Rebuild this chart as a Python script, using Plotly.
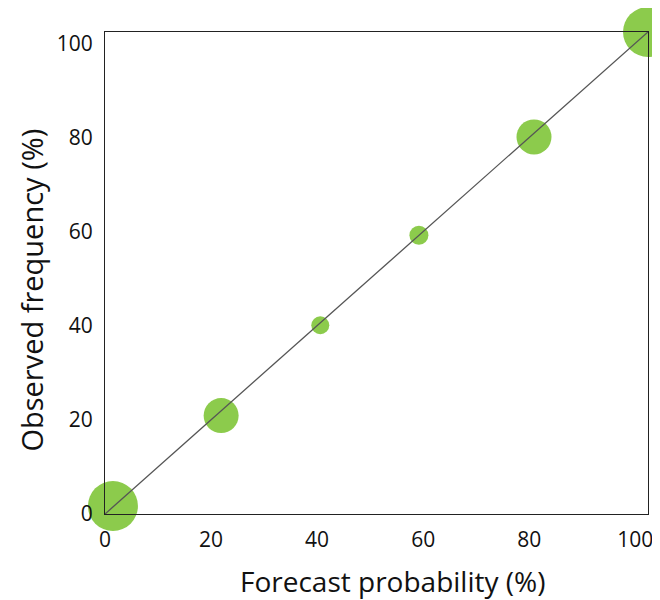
import plotly.graph_objects as go

# Data
forecast_prob = [1.5, 21.9, 40.6, 59.2, 80.9, 102.4]
observed_freq = [1.7, 20.9, 40.1, 59.2, 80.1, 102.4]
bubble_size = [50, 35, 18, 19, 35, 50]
diag_x = [0, 102.4]
diag_y = [0, 102.4]
tick_vals = [0, 20, 40, 60, 80, 100]
tick_text = ["0", "20", "40", "60", "80", "100"]
x_title = "Forecast probability (%)"
y_title = "Observed frequency (%)"

FONT = "'Open Sans', sans-serif"

fig = go.Figure()
fig.add_trace(go.Scatter(
    x=forecast_prob, y=observed_freq, mode="markers",
    marker=dict(size=bubble_size, color="#8CCB4C", opacity=1, line=dict(width=0)),
    cliponaxis=False, showlegend=False, hoverinfo="skip"))
fig.add_trace(go.Scatter(
    x=diag_x, y=diag_y, mode="lines",
    line=dict(color="#555555", width=1.3),
    showlegend=False, hoverinfo="skip"))

axis_common = dict(
    showgrid=False, zeroline=False, showline=True, mirror=True,
    linecolor="#222222", linewidth=1, ticks="",
    tickvals=tick_vals, ticktext=tick_text,
    tickfont=dict(family=FONT, size=21, color="#111111"),
    range=[0, 102.4], fixedrange=True, ticklabelstandoff=7,
)
fig.update_xaxes(**axis_common)
fig.update_yaxes(**axis_common)

fig.add_annotation(text=x_title, xref="paper", yref="paper",
                   x=(384 - 97) / 543, y=-0.14, xanchor="center", yanchor="middle",
                   showarrow=False, font=dict(family=FONT, size=28, color="#111111"))
fig.add_annotation(text=y_title, xref="paper", yref="paper",
                   x=-0.137, y=(506 - 282) / 482, xanchor="center", yanchor="middle",
                   textangle=-90, showarrow=False,
                   font=dict(family=FONT, size=29, color="#111111"))

fig.update_layout(
    width=660, height=600,
    margin=dict(l=97, r=20, t=24, b=94),
    paper_bgcolor="white", plot_bgcolor="white",
)

fig.write_html("out.html")
